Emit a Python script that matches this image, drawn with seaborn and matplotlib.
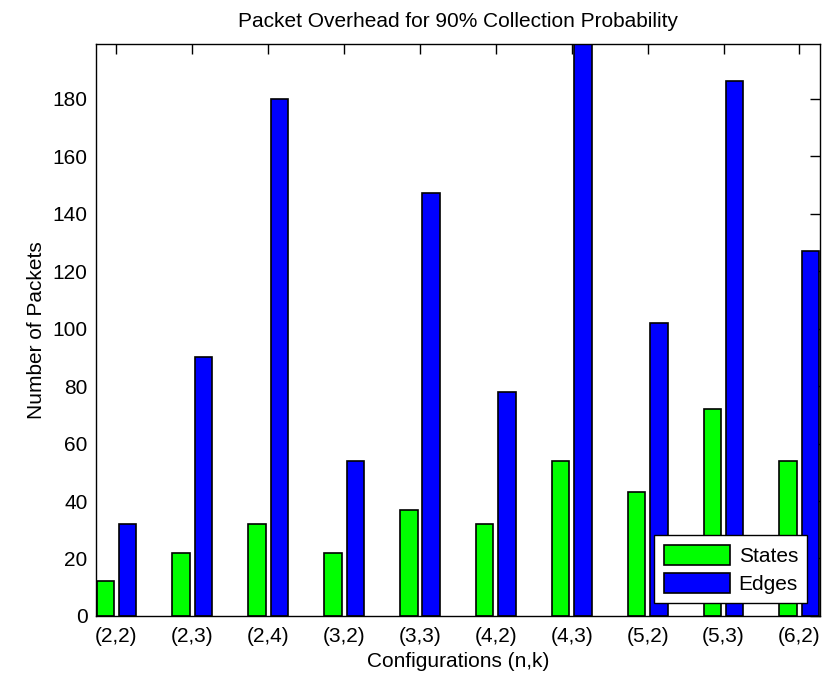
import matplotlib
matplotlib.use("Agg")
import matplotlib.pyplot as plt
import seaborn as sns
import pandas as pd

configs = ["(2,2)", "(2,3)", "(2,4)", "(3,2)", "(3,3)", "(4,2)", "(4,3)", "(5,2)", "(5,3)", "(6,2)"]
states = [12, 22, 32, 22, 37, 32, 54, 43, 72, 54]
edges = [32, 90, 180, 54, 147, 78, 199, 102, 186, 127]
series_names = ["States", "Edges"]
yticks = [0, 20, 40, 60, 80, 100, 120, 140, 160, 180]

df = pd.DataFrame({
    "config": configs * 2,
    "value": states + edges,
    "series": [series_names[0]] * len(configs) + [series_names[1]] * len(configs),
})

sns.set_style("white")
plt.rcParams["font.family"] = ["Liberation Sans", "DejaVu Sans"]
plt.rcParams["text.color"] = "black"
plt.rcParams["axes.labelcolor"] = "black"
plt.rcParams["xtick.color"] = "black"
plt.rcParams["ytick.color"] = "black"

fig = plt.figure(figsize=(8.29, 6.74), dpi=100)
ax = fig.add_axes([0.1158, 0.0861, 0.989 - 0.1158, 0.9347 - 0.0861])

sns.barplot(data=df, x="config", y="value", hue="series", order=configs,
            hue_order=series_names, palette=["#00ff00", "#0000ff"],
            width=0.59, gap=0.22, edgecolor="black", linewidth=1.2,
            saturation=1, ax=ax)

ax.set_xlim(-0.27, len(configs) - 1 + 0.27)
ax.set_ylim(0, 199)
ax.set_yticks(yticks)
ax.tick_params(direction="in", length=7, width=1, top=True, right=True,
               labelsize=15, colors="black")
ax.tick_params(axis="x", pad=8)
ax.tick_params(axis="y", pad=6)
for s in ax.spines.values():
    s.set_visible(True)
    s.set_color("black")
    s.set_linewidth(1)

ax.set_title("Packet Overhead for 90% Collection Probability", fontsize=15, pad=12, color="black")
ax.set_xlabel("Configurations (n,k)", fontsize=15, labelpad=4, color="black")
ax.set_ylabel("Number of Packets", fontsize=15, labelpad=5, color="black")

leg = ax.legend(loc="lower right", fontsize=15, frameon=True, fancybox=False,
                edgecolor="black", framealpha=1, handlelength=3.2, handleheight=1.1,
                labelspacing=0.35, handletextpad=0.4, borderpad=0.45,
                borderaxespad=0.6)
leg.get_frame().set_linewidth(1)

fig.savefig("out.png", dpi=100)
